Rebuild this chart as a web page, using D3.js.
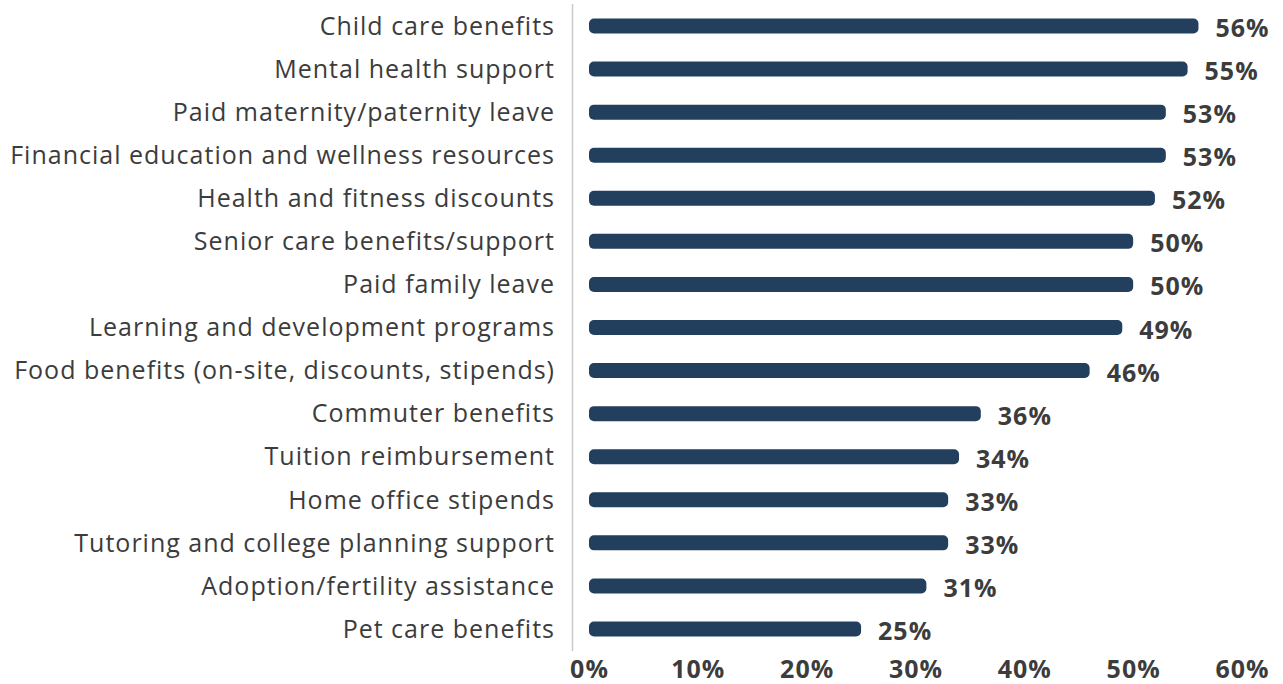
<!DOCTYPE html>
<html>
<head>
<meta charset="utf-8">
<script src="https://cdn.jsdelivr.net/npm/d3@7/dist/d3.min.js"></script>
<style>
  html, body { margin: 0; padding: 0; background: #ffffff; }
  svg { display: block; }
  text { font-variant-ligatures: none; }
</style>
</head>
<body>
<svg id="chart" width="1283" height="684"></svg>
<script>
// Share of respondents selecting each benefit (%)
const categories = [
  "Child care benefits",
  "Mental health support",
  "Paid maternity/paternity leave",
  "Financial education and wellness resources",
  "Health and fitness discounts",
  "Senior care benefits/support",
  "Paid family leave",
  "Learning and development programs",
  "Food benefits (on-site, discounts, stipends)",
  "Commuter benefits",
  "Tuition reimbursement",
  "Home office stipends",
  "Tutoring and college planning support",
  "Adoption/fertility assistance",
  "Pet care benefits"
];
const values = [56, 55, 53, 53, 52, 50, 50, 49, 46, 36, 34, 33, 33, 31, 25];
const tickValues = [0, 10, 20, 30, 40, 50, 60];

const svg = d3.select("#chart");
const barColor = "#233f5e";
const textColor = "#3c3c3c";
const fontFamily = "'Open Sans', sans-serif";
const labelSpacing = 1.0;

const x = d3.scaleLinear().domain([0, 60]).range([589, 1242]);
const y = d3.scalePoint().domain(categories).range([26, 629]);
const barH = 15;

// vertical axis rule
svg.append("line")
  .attr("x1", 572.5).attr("x2", 572.5)
  .attr("y1", 4).attr("y2", 651)
  .attr("stroke", "#c9c9c9").attr("stroke-width", 1.5);

// bars
svg.append("g").selectAll("rect")
  .data(categories)
  .join("rect")
  .attr("x", x(0))
  .attr("y", d => y(d) - barH / 2)
  .attr("width", (d, i) => x(values[i]) - x(0))
  .attr("height", barH)
  .attr("rx", 5).attr("ry", 5)
  .attr("fill", barColor);

// category labels (right-aligned; trailing letter-spacing compensated)
svg.append("g").selectAll("text")
  .data(categories)
  .join("text")
  .attr("x", 554 + labelSpacing)
  .attr("y", d => y(d))
  .attr("dy", "0.35em")
  .attr("text-anchor", "end")
  .attr("font-family", fontFamily)
  .attr("font-size", 25)
  .attr("letter-spacing", labelSpacing)
  .attr("fill", textColor)
  .text(d => d);

// value labels
svg.append("g").selectAll("text")
  .data(categories)
  .join("text")
  .attr("x", (d, i) => x(values[i]) + 17)
  .attr("y", d => y(d) + 2)
  .attr("dy", "0.36em")
  .attr("font-family", fontFamily)
  .attr("font-weight", 700)
  .attr("font-size", 25)
  .attr("letter-spacing", 1)
  .attr("fill", textColor)
  .text((d, i) => values[i] + "%");

// bottom axis
const xAxis = d3.axisBottom(x)
  .tickValues(tickValues)
  .tickSize(0)
  .tickPadding(0)
  .tickFormat(d => d + "%");

const ax = svg.append("g")
  .attr("transform", "translate(0,678)")
  .call(xAxis);
ax.select(".domain").remove();
ax.selectAll("text")
  .attr("dy", 0)
  .attr("font-family", fontFamily)
  .attr("font-weight", 700)
  .attr("font-size", 25)
  .attr("letter-spacing", 1)
  .attr("fill", textColor);
</script>
</body>
</html>
